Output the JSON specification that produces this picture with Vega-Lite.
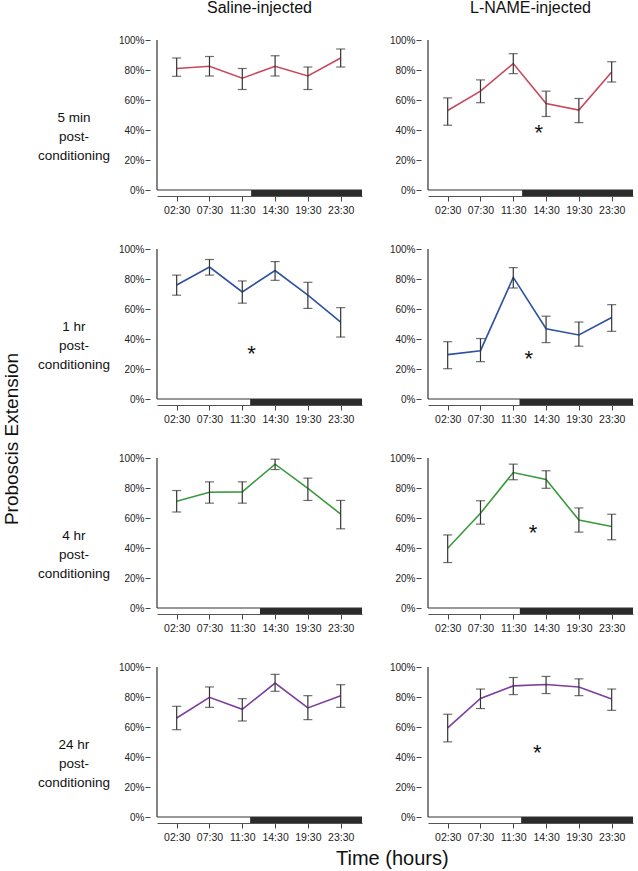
{
  "$schema": "https://vega.github.io/schema/vega-lite/v6.json",
  "background": "white",
  "padding": {"left": 3, "top": 0, "right": 2, "bottom": 2},
  "config": {
    "view": {"stroke": null},
    "font": "Liberation Sans",
    "axis": {"grid": false, "labelColor": "#222", "tickColor": "#444", "domainColor": "#555"}
  },
  "title": {"text": "Time (hours)", "orient": "bottom", "anchor": "middle", "fontSize": 20, "fontWeight": "normal", "color": "#111", "dx": 74, "offset": 6},
  "data": {"values": [
    {"cond":"5 min","drug":"Saline-injected","kind":"pt","idx":0,"m":81,"lo":75.8,"hi":88},
    {"cond":"5 min","drug":"Saline-injected","kind":"pt","idx":1,"m":82.5,"lo":76,"hi":89},
    {"cond":"5 min","drug":"Saline-injected","kind":"pt","idx":2,"m":74.5,"lo":67,"hi":81},
    {"cond":"5 min","drug":"Saline-injected","kind":"pt","idx":3,"m":82.5,"lo":76,"hi":89.5},
    {"cond":"5 min","drug":"Saline-injected","kind":"pt","idx":4,"m":76,"lo":67,"hi":82},
    {"cond":"5 min","drug":"Saline-injected","kind":"pt","idx":5,"m":88,"lo":82,"hi":94},
    {"cond":"5 min","drug":"Saline-injected","kind":"dark","idx":2.27,"x2":5.65},
    {"cond":"5 min","drug":"L-NAME-injected","kind":"pt","idx":0,"m":53,"lo":43.2,"hi":61.4},
    {"cond":"5 min","drug":"L-NAME-injected","kind":"pt","idx":1,"m":65.9,"lo":58.2,"hi":73.4},
    {"cond":"5 min","drug":"L-NAME-injected","kind":"pt","idx":2,"m":84.3,"lo":77.6,"hi":90.9},
    {"cond":"5 min","drug":"L-NAME-injected","kind":"pt","idx":3,"m":57.7,"lo":49,"hi":65.9},
    {"cond":"5 min","drug":"L-NAME-injected","kind":"pt","idx":4,"m":53.3,"lo":44.9,"hi":61},
    {"cond":"5 min","drug":"L-NAME-injected","kind":"pt","idx":5,"m":78.7,"lo":72,"hi":85.5},
    {"cond":"5 min","drug":"L-NAME-injected","kind":"dark","idx":2.27,"x2":5.65},
    {"cond":"5 min","drug":"L-NAME-injected","kind":"star","idx":2.78,"m":42},
    {"cond":"1 hr","drug":"Saline-injected","kind":"pt","idx":0,"m":76,"lo":69.2,"hi":82.6},
    {"cond":"1 hr","drug":"Saline-injected","kind":"pt","idx":1,"m":88,"lo":82.6,"hi":93},
    {"cond":"1 hr","drug":"Saline-injected","kind":"pt","idx":2,"m":71.4,"lo":63.9,"hi":78.7},
    {"cond":"1 hr","drug":"Saline-injected","kind":"pt","idx":3,"m":85.6,"lo":79.1,"hi":91.6},
    {"cond":"1 hr","drug":"Saline-injected","kind":"pt","idx":4,"m":69.2,"lo":60.4,"hi":77.8},
    {"cond":"1 hr","drug":"Saline-injected","kind":"pt","idx":5,"m":51.2,"lo":41.3,"hi":60.9},
    {"cond":"1 hr","drug":"Saline-injected","kind":"dark","idx":2.24,"x2":5.65},
    {"cond":"1 hr","drug":"Saline-injected","kind":"star","idx":2.28,"m":34},
    {"cond":"1 hr","drug":"L-NAME-injected","kind":"pt","idx":0,"m":29.6,"lo":20.2,"hi":38.2},
    {"cond":"1 hr","drug":"L-NAME-injected","kind":"pt","idx":1,"m":32.2,"lo":24.9,"hi":40.3},
    {"cond":"1 hr","drug":"L-NAME-injected","kind":"pt","idx":2,"m":81.1,"lo":74,"hi":87.6},
    {"cond":"1 hr","drug":"L-NAME-injected","kind":"pt","idx":3,"m":46.8,"lo":37.6,"hi":55.2},
    {"cond":"1 hr","drug":"L-NAME-injected","kind":"pt","idx":4,"m":42.7,"lo":35.2,"hi":51.3},
    {"cond":"1 hr","drug":"L-NAME-injected","kind":"pt","idx":5,"m":54.3,"lo":45.1,"hi":62.9},
    {"cond":"1 hr","drug":"L-NAME-injected","kind":"dark","idx":2.19,"x2":5.65},
    {"cond":"1 hr","drug":"L-NAME-injected","kind":"star","idx":2.47,"m":30.7},
    {"cond":"4 hr","drug":"Saline-injected","kind":"pt","idx":0,"m":71.1,"lo":64,"hi":78.3},
    {"cond":"4 hr","drug":"Saline-injected","kind":"pt","idx":1,"m":77.2,"lo":69.9,"hi":84.1},
    {"cond":"4 hr","drug":"Saline-injected","kind":"pt","idx":2,"m":77.4,"lo":69.9,"hi":84.1},
    {"cond":"4 hr","drug":"Saline-injected","kind":"pt","idx":3,"m":95.9,"lo":92.3,"hi":99.2},
    {"cond":"4 hr","drug":"Saline-injected","kind":"pt","idx":4,"m":79.7,"lo":71.7,"hi":86.6},
    {"cond":"4 hr","drug":"Saline-injected","kind":"pt","idx":5,"m":62.6,"lo":52.8,"hi":71.7},
    {"cond":"4 hr","drug":"Saline-injected","kind":"dark","idx":2.54,"x2":5.65},
    {"cond":"4 hr","drug":"L-NAME-injected","kind":"pt","idx":0,"m":39.8,"lo":30.3,"hi":48.7},
    {"cond":"4 hr","drug":"L-NAME-injected","kind":"pt","idx":1,"m":63.2,"lo":55.9,"hi":71.5},
    {"cond":"4 hr","drug":"L-NAME-injected","kind":"pt","idx":2,"m":90.3,"lo":85.5,"hi":95.9},
    {"cond":"4 hr","drug":"L-NAME-injected","kind":"pt","idx":3,"m":85.7,"lo":79.8,"hi":91.5},
    {"cond":"4 hr","drug":"L-NAME-injected","kind":"pt","idx":4,"m":58.6,"lo":50.6,"hi":66.7},
    {"cond":"4 hr","drug":"L-NAME-injected","kind":"pt","idx":5,"m":54.3,"lo":45.5,"hi":62.5},
    {"cond":"4 hr","drug":"L-NAME-injected","kind":"dark","idx":2.2,"x2":5.65},
    {"cond":"4 hr","drug":"L-NAME-injected","kind":"star","idx":2.6,"m":54},
    {"cond":"24 hr","drug":"Saline-injected","kind":"pt","idx":0,"m":66,"lo":58.2,"hi":73.8},
    {"cond":"24 hr","drug":"Saline-injected","kind":"pt","idx":1,"m":79.8,"lo":73.1,"hi":86.7},
    {"cond":"24 hr","drug":"Saline-injected","kind":"pt","idx":2,"m":71.8,"lo":64,"hi":78.9},
    {"cond":"24 hr","drug":"Saline-injected","kind":"pt","idx":3,"m":89.3,"lo":83.8,"hi":95.1},
    {"cond":"24 hr","drug":"Saline-injected","kind":"pt","idx":4,"m":72.7,"lo":64.9,"hi":80.9},
    {"cond":"24 hr","drug":"Saline-injected","kind":"pt","idx":5,"m":80.9,"lo":73.1,"hi":88.2},
    {"cond":"24 hr","drug":"Saline-injected","kind":"dark","idx":2.24,"x2":5.65},
    {"cond":"24 hr","drug":"L-NAME-injected","kind":"pt","idx":0,"m":59.4,"lo":50.1,"hi":68.5},
    {"cond":"24 hr","drug":"L-NAME-injected","kind":"pt","idx":1,"m":79,"lo":72.3,"hi":85.3},
    {"cond":"24 hr","drug":"L-NAME-injected","kind":"pt","idx":2,"m":87.4,"lo":81.6,"hi":93},
    {"cond":"24 hr","drug":"L-NAME-injected","kind":"pt","idx":3,"m":88.3,"lo":82.3,"hi":93.7},
    {"cond":"24 hr","drug":"L-NAME-injected","kind":"pt","idx":4,"m":86.7,"lo":80.9,"hi":92.1},
    {"cond":"24 hr","drug":"L-NAME-injected","kind":"pt","idx":5,"m":78.6,"lo":71.1,"hi":85.3},
    {"cond":"24 hr","drug":"L-NAME-injected","kind":"dark","idx":2.24,"x2":5.65},
    {"cond":"24 hr","drug":"L-NAME-injected","kind":"star","idx":2.73,"m":47}
  ]},
  "facet": {
    "row": {"field": "cond", "type": "nominal", "sort": ["5 min", "1 hr", "4 hr", "24 hr"],
      "header": {"title": "Proboscis Extension", "titleFontSize": 19, "titleFontWeight": "normal", "titleColor": "#111", "titleOrient": "left", "titlePadding": 5,
        "labelOrient": "left", "labelAngle": 0, "labelAlign": "center", "labelExpr": "[datum.value, 'post-', 'conditioning']",
        "labelFont": "Liberation Sans", "labelFontSize": 13.5, "labelLineHeight": 19, "labelColor": "#111", "labelPadding": -28}},
    "column": {"field": "drug", "type": "nominal", "sort": ["Saline-injected", "L-NAME-injected"],
      "header": {"title": null, "labelFontSize": 16, "labelColor": "#111", "labelPadding": 19}}
  },
  "spacing": {"row": 28, "column": 26},
  "resolve": {"axis": {"x": "independent", "y": "independent"}},
  "spec": {
    "width": 205,
    "height": 156,
    "layer": [
      {
        "transform": [{"filter": "datum.kind == 'pt'"}],
        "mark": {"type": "line", "strokeWidth": 1.6},
        "encoding": {
          "x": {"field": "idx", "type": "quantitative", "scale": {"domain": [-0.6, 5.65], "nice": false, "zero": false},
            "axis": {"title": null, "values": [0, 1, 2, 3, 4, 5], "tickCount": 12, "labelExpr": "['02:30','07:30','11:30','14:30','19:30','23:30'][datum.value]", "labelFontSize": 10.5, "tickSize": 5, "labelPadding": 4, "domainWidth": 1, "labelOverlap": false}},
          "y": {"field": "m", "type": "quantitative", "scale": {"domain": [-4, 100], "nice": false, "zero": false},
            "axis": {"title": null, "values": [0, 20, 40, 60, 80, 100], "tickCount": 12, "labelExpr": "datum.value + '%'", "labelFontSize": 10, "offset": 7, "domain": false, "tickSize": 5, "labelPadding": 1, "labelOverlap": false, "labelFlush": false}},
          "color": {"field": "cond", "type": "nominal", "legend": null,
            "scale": {"domain": ["5 min", "1 hr", "4 hr", "24 hr"], "range": ["#c8485e", "#2e52a0", "#3a9a3e", "#7d3e9e"]}}
        }
      },
      {
        "transform": [{"filter": "datum.kind == 'dark'"}],
        "mark": {"type": "rect", "color": "#2b2b2b"},
        "encoding": {
          "x": {"field": "idx", "type": "quantitative"},
          "x2": {"field": "x2"},
          "y": {"datum": 0, "type": "quantitative"},
          "y2": {"datum": -4}
        }
      },
      {
        "transform": [{"filter": "datum.kind == 'dark'"}],
        "mark": {"type": "rule", "color": "#333", "strokeWidth": 1.2},
        "encoding": {
          "x": {"datum": -0.6, "type": "quantitative"},
          "x2": {"datum": 5.65},
          "y": {"datum": 0, "type": "quantitative"}
        }
      },
      {
        "transform": [{"filter": "datum.kind == 'dark'"}],
        "mark": {"type": "rule", "color": "#333", "strokeWidth": 1.2},
        "encoding": {
          "x": {"datum": -0.6, "type": "quantitative"},
          "y": {"datum": 0, "type": "quantitative"},
          "y2": {"datum": 100}
        }
      },
      {
        "transform": [{"filter": "datum.kind == 'pt'"}],
        "mark": {"type": "rule", "color": "#333", "strokeWidth": 1.2},
        "encoding": {
          "x": {"field": "idx", "type": "quantitative"},
          "y": {"field": "lo", "type": "quantitative"},
          "y2": {"field": "hi"}
        }
      },
      {
        "transform": [{"filter": "datum.kind == 'pt'"}],
        "mark": {"type": "tick", "orient": "horizontal", "size": 9, "thickness": 1.2, "color": "#333"},
        "encoding": {
          "x": {"field": "idx", "type": "quantitative"},
          "y": {"field": "lo", "type": "quantitative"}
        }
      },
      {
        "transform": [{"filter": "datum.kind == 'pt'"}],
        "mark": {"type": "tick", "orient": "horizontal", "size": 9, "thickness": 1.2, "color": "#333"},
        "encoding": {
          "x": {"field": "idx", "type": "quantitative"},
          "y": {"field": "hi", "type": "quantitative"}
        }
      },
      {
        "transform": [{"filter": "datum.kind == 'star'"}],
        "mark": {"type": "text", "text": "*", "fontSize": 22, "baseline": "middle", "dy": 6, "color": "#111"},
        "encoding": {
          "x": {"field": "idx", "type": "quantitative"},
          "y": {"field": "m", "type": "quantitative"}
        }
      }
    ]
  }
}
